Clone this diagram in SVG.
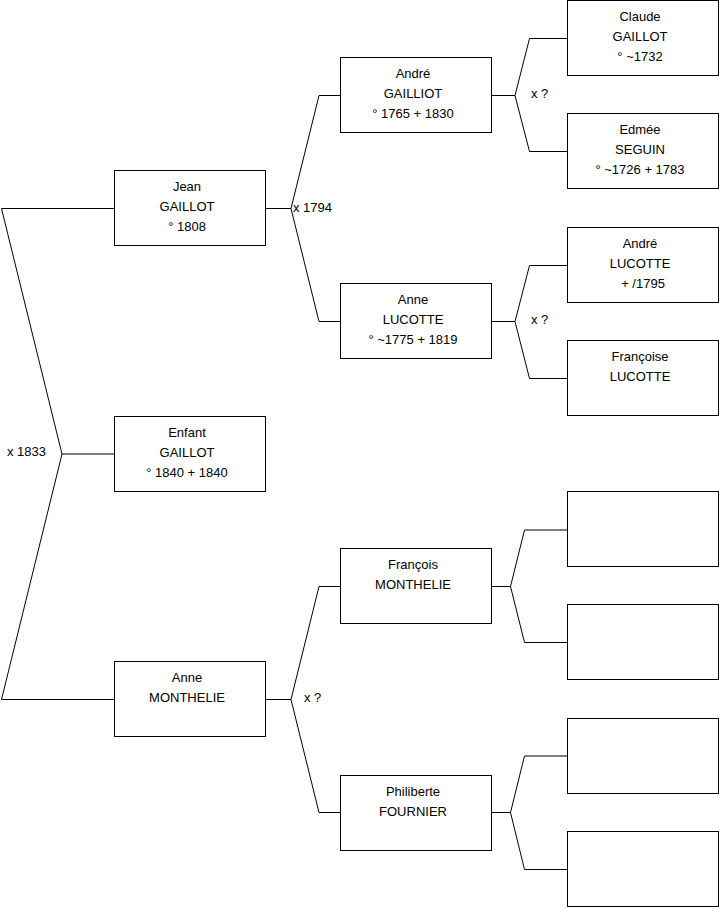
<svg xmlns="http://www.w3.org/2000/svg" width="719" height="908" viewBox="0 0 719 908">
<style>
.box{fill:#fff;stroke:#000;stroke-width:1}
.c{fill:none;stroke:#000;stroke-width:1}
text{font-family:"Liberation Sans",Arial,sans-serif;font-size:13px;fill:#000}
.t{text-anchor:middle}
</style>
<rect width="719" height="908" fill="#fff"/>
<g id="connectors">
<path class="c" d="M114.5,208.5 H1.5 L62,454 L1.5,699.5 H114.5 M62,454 H114.5"/>
<path class="c" d="M265.5,208.5 H291 L319,95.5 H340.5 M291,208.5 L319,321.5 H340.5"/>
<path class="c" d="M265.5,699.5 H291 L319,586.5 H340.5 M291,699.5 L319,812.5 H340.5"/>
<path class="c" d="M491.5,95.5 H515 L529.5,38.5 H567.5 M515,95.5 L529.5,151.5 H567.5"/>
<path class="c" d="M491.5,321.5 H515 L529.5,265.5 H567.5 M515,321.5 L529.5,378.5 H567.5"/>
<path class="c" d="M491.5,586.5 H510.5 L524.5,530 H567.5 M510.5,586.5 L524.5,642.5 H567.5"/>
<path class="c" d="M491.5,812.5 H510.5 L524.5,756 H567.5 M510.5,812.5 L524.5,869.5 H567.5"/>
<text x="7" y="456">x 1833</text>
<text x="293" y="212">x 1794</text>
<text x="531" y="98">x ?</text>
<text x="531" y="324">x ?</text>
<text x="304" y="702">x ?</text>
</g>
<g id="jean"><rect class="box" x="114.5" y="170.5" width="151" height="75"/><text class="t" x="187" y="191">Jean</text><text class="t" x="187" y="211">GAILLOT</text><text class="t" x="187" y="231">° 1808</text></g>
<g id="enfant"><rect class="box" x="114.5" y="416.5" width="151" height="75"/><text class="t" x="187" y="437">Enfant</text><text class="t" x="187" y="457">GAILLOT</text><text class="t" x="187" y="477">° 1840 + 1840</text></g>
<g id="anne-monthelie"><rect class="box" x="114.5" y="661.5" width="151" height="75"/><text class="t" x="187" y="682">Anne</text><text class="t" x="187" y="702">MONTHELIE</text></g>
<g id="andre-gailliot"><rect class="box" x="340.5" y="57.5" width="151" height="75"/><text class="t" x="413" y="78">André</text><text class="t" x="413" y="98">GAILLIOT</text><text class="t" x="413" y="118">° 1765 + 1830</text></g>
<g id="anne-lucotte"><rect class="box" x="340.5" y="283.5" width="151" height="75"/><text class="t" x="413" y="304">Anne</text><text class="t" x="413" y="324">LUCOTTE</text><text class="t" x="413" y="344">° ~1775 + 1819</text></g>
<g id="francois-monthelie"><rect class="box" x="340.5" y="548.5" width="151" height="75"/><text class="t" x="413" y="569">François</text><text class="t" x="413" y="589">MONTHELIE</text></g>
<g id="philiberte-fournier"><rect class="box" x="340.5" y="775.5" width="151" height="75"/><text class="t" x="413" y="796">Philiberte</text><text class="t" x="413" y="816">FOURNIER</text></g>
<g id="claude-gaillot"><rect class="box" x="567.5" y="0.5" width="151" height="75"/><text class="t" x="640" y="21">Claude</text><text class="t" x="640" y="41">GAILLOT</text><text class="t" x="640" y="61">° ~1732</text></g>
<g id="edmee-seguin"><rect class="box" x="567.5" y="113.5" width="151" height="75"/><text class="t" x="640" y="134">Edmée</text><text class="t" x="640" y="154">SEGUIN</text><text class="t" x="640" y="174">° ~1726 + 1783</text></g>
<g id="andre-lucotte"><rect class="box" x="567.5" y="227.5" width="151" height="75"/><text class="t" x="640" y="248">André</text><text class="t" x="640" y="268">LUCOTTE</text><text class="t" x="643" y="288">+ /1795</text></g>
<g id="francoise-lucotte"><rect class="box" x="567.5" y="340.5" width="151" height="75"/><text class="t" x="640" y="361">Françoise</text><text class="t" x="640" y="381">LUCOTTE</text></g>
<g id="empty1"><rect class="box" x="567.5" y="491.5" width="151" height="75"/></g>
<g id="empty2"><rect class="box" x="567.5" y="604.5" width="151" height="75"/></g>
<g id="empty3"><rect class="box" x="567.5" y="718.5" width="151" height="75"/></g>
<g id="empty4"><rect class="box" x="567.5" y="831.5" width="151" height="75"/></g>
</svg>
